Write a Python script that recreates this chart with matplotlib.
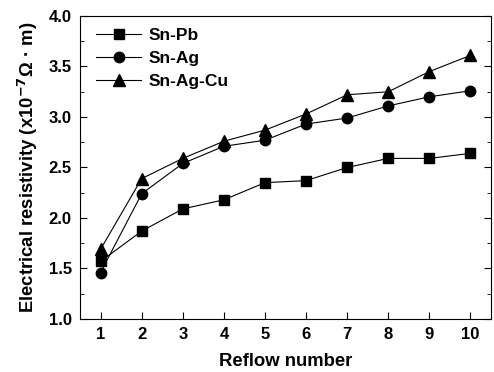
import matplotlib
matplotlib.use("Agg")
import matplotlib.pyplot as plt
from matplotlib.ticker import MultipleLocator

plt.rcParams['font.family'] = ['Liberation Sans', 'DejaVu Sans']
plt.rcParams['font.weight'] = 'bold'
plt.rcParams['mathtext.default'] = 'bf'

reflow = [1, 2, 3, 4, 5, 6, 7, 8, 9, 10]
snpb = [1.57, 1.87, 2.09, 2.18, 2.35, 2.37, 2.50, 2.59, 2.59, 2.64]
snag = [1.46, 2.24, 2.54, 2.71, 2.77, 2.93, 2.99, 3.11, 3.20, 3.26]
snagcu = [1.69, 2.39, 2.59, 2.76, 2.87, 3.03, 3.22, 3.25, 3.45, 3.61]

fig = plt.figure(figsize=(4.94, 3.72), dpi=100)
ax = fig.add_axes([0.162, 0.1425, 0.832, 0.8145])

ax.plot(reflow, snpb, 'k-s', lw=0.8, ms=7, label='Sn-Pb')
ax.plot(reflow, snag, 'k-o', lw=0.8, ms=7.5, label='Sn-Ag')
ax.plot(reflow, snagcu, 'k-^', lw=0.8, ms=8, label='Sn-Ag-Cu')

ax.set_xlim(0.5, 10.5)
ax.set_ylim(1.0, 4.0)
ax.set_xticks(reflow)
ax.yaxis.set_major_locator(MultipleLocator(0.5))
ax.yaxis.set_minor_locator(MultipleLocator(0.25))
ax.tick_params(which='both', direction='in', right=True, top=False, labelsize=12)
ax.tick_params(which='major', length=5, pad=6)
ax.tick_params(which='minor', length=3)

ax.set_xlabel('Reflow number', fontsize=13.3, fontweight='bold', labelpad=8)
ax.set_ylabel('Electrical resistivity (x10$^{-7}$\u03a9 \u00b7 m)', fontsize=13.3,
              fontweight='bold', labelpad=6)

ax.legend(loc='upper left', frameon=False, fontsize=12.5, handlelength=2.6,
          handletextpad=0.4, borderaxespad=0.3, labelspacing=0.45,
          bbox_to_anchor=(0.01, 1.0))

fig.savefig('out.png', dpi=100)
